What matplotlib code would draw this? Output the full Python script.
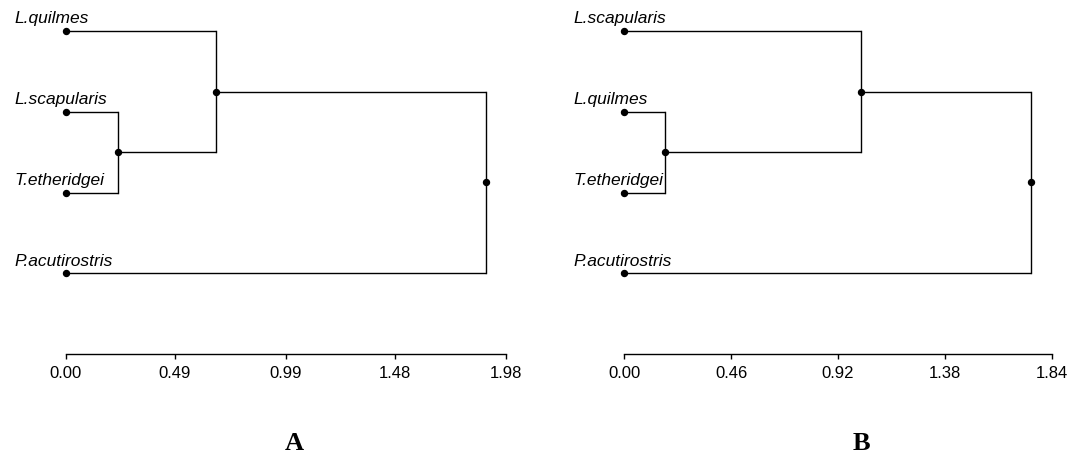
import numpy as np
import matplotlib
matplotlib.use("Agg")
import matplotlib.pyplot as plt

# panel A
labels_a = ["L.quilmes", "L.scapularis", "T.etheridgei", "P.acutirostris"]
merges_a = [[1, 2], [0, 4], [5, 3]]      # linkage-style: new node = n_leaves + k
heights_a = [0.237, 0.674, 1.888]
ticks_a = [0.00, 0.49, 0.99, 1.48, 1.98]

# panel B
labels_b = ["L.scapularis", "L.quilmes", "T.etheridgei", "P.acutirostris"]
merges_b = [[1, 2], [0, 4], [5, 3]]
heights_b = [0.177, 1.017, 1.753]
ticks_b = [0.00, 0.46, 0.92, 1.38, 1.84]

W, H = 1081, 459
DPI = 100
PT = 72.0 / DPI   # pixels -> points


def draw_tree(ax, labels, merges, heights, ticks):
    n = len(labels)
    xs = {i: 0.0 for i in range(n)}
    ys = {i: float(i) for i in range(n)}
    for k, (a, b) in enumerate(merges):
        h = heights[k]
        for c in (a, b):
            ax.plot([xs[c], h], [ys[c], ys[c]], color="black", lw=1.0,
                    solid_capstyle="butt", clip_on=False)
        ax.plot([h, h], [ys[a], ys[b]], color="black", lw=1.0, clip_on=False)
        xs[n + k] = h
        ys[n + k] = (ys[a] + ys[b]) / 2.0

    # dots on leaves and nodes
    node_x = [xs[i] for i in xs]
    node_y = [ys[i] for i in ys]
    ax.plot(node_x, node_y, "o", color="black", ms=4.3, clip_on=False, zorder=3)

    for i, lab in enumerate(labels):
        ax.annotate(lab, xy=(0, i), xytext=(-51 * PT, 7.5 * PT),
                    textcoords="offset points", ha="left", va="baseline",
                    fontsize=12.5, style="italic", family="Liberation Sans",
                    annotation_clip=False)

    ax.set_xlim(ticks[0], ticks[-1])
    ax.set_ylim(4, 0)
    ax.set_xticks(ticks)
    ax.set_xticklabels(["%.2f" % t for t in ticks], family="Liberation Sans",
                       fontsize=12)
    ax.set_yticks([])
    for s in ("top", "left", "right"):
        ax.spines[s].set_visible(False)
    ax.spines["bottom"].set_linewidth(1.0)
    ax.tick_params(axis="x", direction="out", length=5 * PT, width=1.0,
                   pad=7.5 * PT)
    ax.patch.set_alpha(0)


fig = plt.figure(figsize=(W / DPI, H / DPI), dpi=DPI)

bottom = 1 - 354 / H
height = (354 - 31) / H
ax_a = fig.add_axes([65.7 / W, bottom, (506 - 65.7) / W, height])
ax_b = fig.add_axes([624.3 / W, bottom, (1051.7 - 624.3) / W, height])

draw_tree(ax_a, labels_a, merges_a, heights_a, ticks_a)
draw_tree(ax_b, labels_b, merges_b, heights_b, ticks_b)

fig.text(294.5 / W, 1 - 443 / H, "A", ha="center", va="center",
         fontsize=19, fontweight="bold", family="Liberation Serif")
fig.text(861 / W, 1 - 443 / H, "B", ha="center", va="center",
         fontsize=19, fontweight="bold", family="Liberation Serif")

fig.savefig("out.png", dpi=DPI)
